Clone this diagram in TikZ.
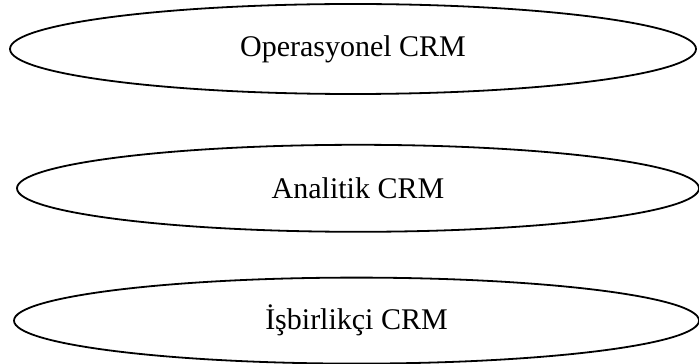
\documentclass[tikz,border=0pt]{standalone}
\usepackage{fontspec}
\setmainfont{Liberation Serif}
\usetikzlibrary{shapes,positioning}

\begin{document}
\begin{tikzpicture}[x=0.5pt,y=-0.5pt,
	crm node/.style={ellipse,inner sep=0pt,draw,line width=0.9pt,font=\fontsize{15}{18}\selectfont,
		minimum width = 342pt, minimum height = 44pt}]

	\useasboundingbox (0,0) rectangle (699,363);

	\node[crm node,minimum width=343pt,minimum height=45pt] (O) at (353,49) {Operasyonel CRM};
	\node[crm node,minimum width=341pt,minimum height=43.5pt] (A) [below = 24.5pt of O, xshift=2.5pt] {Analitik CRM};
	\node[crm node,minimum width=342.5pt,minimum height=43pt] (I) [below = 22pt of A, xshift=-0.75pt] {İşbirlikçi CRM};

\end{tikzpicture}
\end{document}
